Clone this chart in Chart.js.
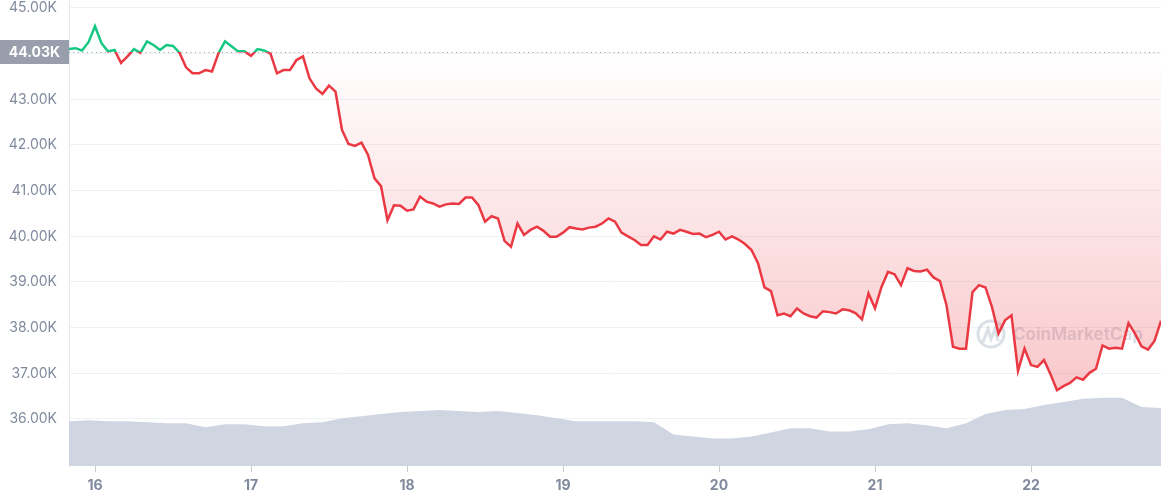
<!DOCTYPE html>
<html>
<head>
<meta charset="utf-8">
<script src="https://cdn.jsdelivr.net/npm/chart.js@4.4.1/dist/chart.umd.min.js"></script>
<style>
  html, body { margin: 0; background: #fff; }
  #wrap { width: 1161px; height: 500px; position: relative; }
</style>
</head>
<body>
<div id="wrap"><canvas id="priceChart"></canvas></div>
<script>
// hourly prices (K USD), starting Jan 15 20:00
const prices = [
  44.10, 44.12, 44.07, 44.25, 44.60, 44.23, 44.05, 44.08, 43.80, 43.94,
  44.10, 44.02, 44.27, 44.19, 44.08, 44.19, 44.17, 44.02, 43.70, 43.57,
  43.57, 43.64, 43.61, 44.01, 44.27, 44.16, 44.05, 44.05, 43.95, 44.10,
  44.07, 44.00, 43.57, 43.64, 43.64, 43.86, 43.94, 43.46, 43.24, 43.12,
  43.30, 43.17, 42.33, 42.02, 41.98, 42.05, 41.78, 41.27, 41.10, 40.35,
  40.68, 40.67, 40.56, 40.59, 40.87, 40.76, 40.72, 40.65, 40.70, 40.72,
  40.71, 40.85, 40.85, 40.68, 40.32, 40.44, 40.39, 39.90, 39.77, 40.28,
  40.03, 40.14, 40.21, 40.12, 39.99, 39.99, 40.08, 40.20, 40.17, 40.15,
  40.19, 40.21, 40.28, 40.39, 40.32, 40.08, 40.00, 39.92, 39.81, 39.81,
  40.00, 39.93, 40.10, 40.06, 40.14, 40.10, 40.05, 40.06, 39.98, 40.03,
  40.10, 39.93, 40.00, 39.93, 39.83, 39.70, 39.41, 38.88, 38.80, 38.27,
  38.31, 38.25, 38.42, 38.31, 38.25, 38.22, 38.36, 38.34, 38.31, 38.40,
  38.38, 38.32, 38.18, 38.75, 38.42, 38.89, 39.22, 39.17, 38.93, 39.30,
  39.24, 39.23, 39.27, 39.10, 39.02, 38.49, 37.58, 37.54, 37.54, 38.78,
  38.93, 38.88, 38.45, 37.87, 38.16, 38.27, 37.05, 37.54, 37.18, 37.14,
  37.29, 36.98, 36.63, 36.72, 36.79, 36.91, 36.86, 37.01, 37.10, 37.61,
  37.54, 37.56, 37.54, 38.10, 37.87, 37.59, 37.52, 37.71, 38.15
];

// volume every 3 hours (B USD)
const volumes = [
  22, 22.5, 22, 22, 21.5, 21, 21, 19, 20.5, 20.5,
  19.5, 19.5, 21, 21.5, 23.5, 24.5, 25.5, 26.5, 27, 27.5,
  27, 26.5, 27, 26, 25, 23.5, 22, 22, 22, 22,
  21.5, 15.5, 14.5, 13.5, 13.5, 14.5, 16.5, 18.5, 18.5, 17,
  17, 18, 20.5, 21, 20, 18.5, 21, 25.5, 27.5, 28,
  30, 31.5, 33, 33.5, 33.5, 29, 28.5
];

const dayLabels = ['16', '17', '18', '19', '20', '21', '22'];
const priceTicks = [36, 37, 38, 39, 40, 41, 42, 43, 44, 45];
const baseline = 44.03;

const firstDayHour = 4;
const volumeStep = 3;
const green = '#16c784';
const red = '#ea3943';

function splitGradient(chart, colTop, colBottom) {
  const { chartArea, scales } = chart;
  const yb = scales.y.getPixelForValue(baseline);
  let t = (yb - chartArea.top) / (chartArea.bottom - chartArea.top);
  t = Math.min(1, Math.max(0, t));
  const g = chart.ctx.createLinearGradient(0, chartArea.top, 0, chartArea.bottom);
  g.addColorStop(0, colTop);
  g.addColorStop(t, colTop);
  g.addColorStop(t, colBottom);
  g.addColorStop(1, colBottom);
  return g;
}

function fillGradient(chart) {
  const { chartArea, scales } = chart;
  const h = chartArea.bottom - chartArea.top;
  const yb = scales.y.getPixelForValue(baseline);
  const yl = scales.y.getPixelForValue(36.6);
  const t = Math.min(1, Math.max(0, (yb - chartArea.top) / h));
  const t2 = Math.min(1, Math.max(t, (yl - chartArea.top) / h));
  const g = chart.ctx.createLinearGradient(0, chartArea.top, 0, chartArea.bottom);
  g.addColorStop(0, 'rgba(22,199,132,0.06)');
  g.addColorStop(t, 'rgba(22,199,132,0.01)');
  g.addColorStop(t, 'rgba(234,57,67,0.0)');
  g.addColorStop(t2, 'rgba(234,57,67,0.28)');
  g.addColorStop(1, 'rgba(234,57,67,0.28)');
  return g;
}

const watermark = {
  id: 'watermark',
  beforeDatasetsDraw(chart) {
    const c = chart.ctx;
    c.save();
    c.strokeStyle = 'rgba(175,184,200,0.45)';
    c.lineWidth = 3;
    c.beginPath();
    c.arc(991, 334, 13, 0, Math.PI * 2);
    c.stroke();
    c.beginPath();
    c.moveTo(983, 342);
    c.lineTo(988, 329);
    c.lineTo(991, 339);
    c.lineTo(995, 329);
    c.lineTo(998, 341);
    c.stroke();
    c.fillStyle = 'rgba(175,184,200,0.45)';
    c.font = 'bold 17px Inter, sans-serif';
    c.textBaseline = 'middle';
    c.fillText('CoinMarketCap', 1013, 335);
    c.restore();
  }
};

const baseLabel = {
  id: 'baseLabel',
  afterDraw(chart) {
    const c = chart.ctx;
    const { chartArea, scales } = chart;
    const yb = Math.round(scales.y.getPixelForValue(baseline)) + 0.5;
    c.save();
    c.strokeStyle = '#9aa0ab';
    c.lineWidth = 1;
    c.setLineDash([1, 3.5]);
    c.beginPath();
    c.moveTo(chartArea.left, yb);
    c.lineTo(chartArea.right, yb);
    c.stroke();
    c.setLineDash([]);
    c.fillStyle = '#989eab';
    c.fillRect(0, yb - 12.5, chartArea.left, 24);
    c.fillStyle = '#fff';
    c.font = 'bold 14px Inter, sans-serif';
    c.textAlign = 'center';
    c.textBaseline = 'middle';
    c.fillText(baseline.toFixed(2) + 'K', chartArea.left / 2, yb);
    c.restore();
  }
};

new Chart(document.getElementById('priceChart'), {
  type: 'line',
  data: {
    datasets: [
      {
        data: prices.map((v, i) => ({ x: i, y: v })),
        yAxisID: 'y',
        borderWidth: 2.5,
        pointRadius: 0,
        tension: 0,
        borderColor: ctx => ctx.chart.chartArea ? splitGradient(ctx.chart, green, red) : red,
        backgroundColor: ctx => ctx.chart.chartArea ? fillGradient(ctx.chart) : 'transparent',
        fill: { value: baseline }
      },
      {
        data: volumes.map((v, i) => ({ x: i * volumeStep, y: v })),
        yAxisID: 'yVol',
        borderWidth: 0,
        pointRadius: 0,
        tension: 0,
        backgroundColor: '#cfd6e2',
        fill: 'origin'
      }
    ]
  },
  options: {
    responsive: true,
    maintainAspectRatio: false,
    animation: false,
    layout: { padding: 0 },
    plugins: { legend: { display: false }, tooltip: { enabled: false } },
    scales: {
      x: {
        type: 'linear',
        min: 0,
        max: prices.length - 1,
        afterFit: scale => { scale.height = 34; },
        grid: { drawOnChartArea: false, drawTicks: true, tickLength: 6, color: '#c5ccd6' },
        border: { display: false },
        afterBuildTicks: axis => {
          axis.ticks = dayLabels.map((d, i) => ({ value: firstDayHour + 24 * i }));
        },
        ticks: {
          autoSkip: false,
          maxRotation: 0,
          padding: 5,
          color: '#808a9d',
          font: { family: 'Inter, sans-serif', size: 14, weight: 'bold' },
          callback: v => dayLabels[Math.round((v - firstDayHour) / 24)]
        }
      },
      y: {
        position: 'left',
        min: 34.97,
        max: 45.175,
        afterBuildTicks: axis => {
          axis.ticks = priceTicks.map(v => ({ value: v }));
        },
        afterFit: scale => {
          scale.width = 69;
          scale.paddingTop = 0;
          scale.paddingBottom = 0;
        },
        grid: { color: '#eff2f5', drawTicks: false },
        border: { display: true, color: '#e6e9ee' },
        ticks: {
          padding: 12,
          color: '#808a9d',
          font: { family: 'Inter, sans-serif', size: 14 },
          callback: v => v.toFixed(2) + 'K'
        }
      },
      yVol: {
        display: false,
        min: 0,
        max: 229
      }
    }
  },
  plugins: [watermark, baseLabel]
});
</script>
</body>
</html>
